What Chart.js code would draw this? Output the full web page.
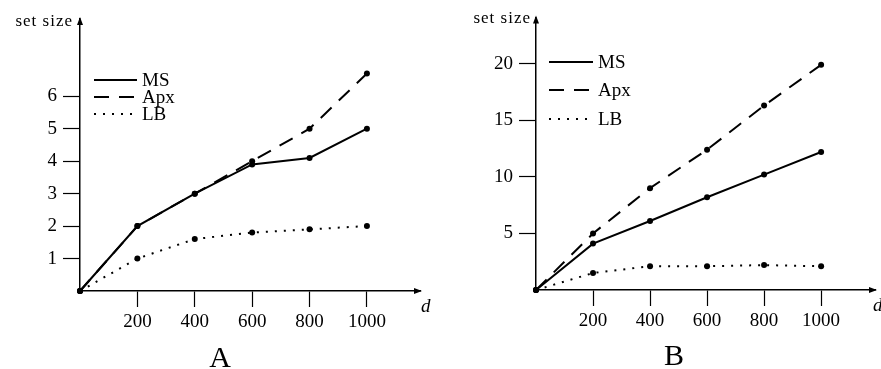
<!DOCTYPE html>
<html>
<head>
<meta charset="utf-8">
<script src="https://cdn.jsdelivr.net/npm/chart.js@4"></script>
<style>
  html, body { margin: 0; padding: 0; background: #fff; }
  #wrap { position: relative; width: 881px; height: 369px; }
  #chartA { position: absolute; left: 0; top: 0; }
  #chartB { position: absolute; left: 440px; top: 0; }
</style>
</head>
<body>
<div id="wrap">
  <canvas id="chartA" width="440" height="369"></canvas>
  <canvas id="chartB" width="441" height="369"></canvas>
</div>
<script>
// d values (x) shared by both panels
var dValues = [0, 200, 400, 600, 800, 1000];
var xTicks = [200, 400, 600, 800, 1000];
var seriesNames = ["MS", "Apx", "LB"];

// panel A
var msA = [0, 2, 3, 3.9, 4.1, 5.0];
var apxA = [0, 2, 3, 4.0, 5.0, 6.7];
var lbA = [0, 1.0, 1.6, 1.8, 1.9, 2.0];
var yTicksA = [1, 2, 3, 4, 5, 6];

// panel B
var msB = [0, 4.1, 6.1, 8.2, 10.2, 12.2];
var apxB = [0, 5.0, 9.0, 12.4, 16.3, 19.9];
var lbB = [0, 1.5, 2.1, 2.1, 2.2, 2.1];
var yTicksB = [5, 10, 15, 20];

Chart.defaults.font.family = '"Liberation Serif", "Times New Roman", serif';
Chart.defaults.color = '#000';

function toPoints(ys) {
    return dValues.map(function(d, i) {
        return { x: d, y: ys[i] };
    });
}

// arrows, axis names, panel letter and the little legend
var decor = {
    id: 'decor',
    afterDraw: function(chart, args, o) {
        var ctx = chart.ctx, a = chart.chartArea;
        ctx.save();
        ctx.fillStyle = '#000';
        ctx.strokeStyle = '#000';

        ctx.beginPath();
        ctx.moveTo(a.left, a.top - 2);
        ctx.lineTo(a.left - 3, a.top + 6);
        ctx.lineTo(a.left + 3, a.top + 6);
        ctx.closePath();
        ctx.fill();
        ctx.beginPath();
        ctx.moveTo(a.right + 2, a.bottom);
        ctx.lineTo(a.right - 6, a.bottom - 3);
        ctx.lineTo(a.right - 6, a.bottom + 3);
        ctx.closePath();
        ctx.fill();

        ctx.textBaseline = 'alphabetic';
        ctx.font = '17px "Liberation Serif"';
        ctx.letterSpacing = '1px';
        ctx.textAlign = 'right';
        ctx.fillText('set size', o.yLabel[0], o.yLabel[1]);
        ctx.letterSpacing = '0px';

        ctx.textAlign = 'left';
        ctx.font = 'italic 19px "Liberation Serif"';
        ctx.fillText('d', o.xLabel[0], o.xLabel[1]);

        ctx.textAlign = 'center';
        ctx.font = '30px "Liberation Serif"';
        ctx.fillText(o.letter, o.letterPos[0], o.letterPos[1]);

        // legend
        ctx.font = '19px "Liberation Serif"';
        ctx.textAlign = 'left';
        ctx.textBaseline = 'middle';
        chart.data.datasets.forEach(function(ds, i) {
            var y = o.legendY[i];
            ctx.save();
            ctx.lineWidth = ds.borderWidth;
            ctx.setLineDash(ds.borderDash || []);
            ctx.beginPath();
            ctx.moveTo(o.legendX[0], y);
            ctx.lineTo(o.legendX[1], y);
            ctx.stroke();
            ctx.restore();
            ctx.fillText(ds.label, o.legendX[2], y + 1);
        });
        ctx.restore();
    }
};

function makeChart(id, ms, apx, lb, yTicks, xMax, yMax, yWidth, padding, deco) {
    var lineStyles = [[], [15, 10], [2, 7]];
    var values = [ms, apx, lb];
    var datasets = values.map(function(v, i) {
        return {
            label: seriesNames[i],
            data: toPoints(v),
            borderColor: '#000',
            borderWidth: 2,
            borderDash: lineStyles[i],
            pointRadius: 3,
            pointBorderWidth: 0,
            pointBackgroundColor: '#000',
            tension: 0,
            clip: false
        };
    });

    return new Chart(document.getElementById(id), {
        type: 'line',
        data: { datasets: datasets },
        options: {
            responsive: false,
            animation: false,
            devicePixelRatio: 1,
            layout: { padding: padding },
            plugins: {
                legend: { display: false },
                tooltip: { enabled: false },
                decor: deco
            },
            scales: {
                x: {
                    type: 'linear',
                    min: 0,
                    max: xMax,
                    afterBuildTicks: function(scale) {
                        scale.ticks = xTicks.map(function(v) { return { value: v }; });
                    },
                    afterFit: function(scale) { scale.height = 40; },
                    ticks: {
                        font: { size: 19 },
                        padding: 4,
                        maxRotation: 0,
                        autoSkip: false,
                        callback: function(v) { return String(v); }
                    },
                    grid: {
                        drawOnChartArea: false,
                        drawTicks: true,
                        tickLength: 16,
                        tickWidth: 1.2,
                        color: '#000'
                    },
                    border: { display: true, color: '#000', width: 1.5 }
                },
                y: {
                    type: 'linear',
                    min: 0,
                    max: yMax,
                    afterBuildTicks: function(scale) {
                        scale.ticks = yTicks.map(function(v) { return { value: v }; });
                    },
                    afterFit: function(scale) { scale.width = yWidth; },
                    ticks: {
                        font: { size: 19 },
                        padding: 6,
                        callback: function(v) { return String(v); }
                    },
                    grid: {
                        drawOnChartArea: false,
                        drawTicks: true,
                        tickLength: 17,
                        tickWidth: 1.2,
                        color: '#000'
                    },
                    border: { display: true, color: '#000', width: 1.5 }
                }
            }
        },
        plugins: [decor]
    });
}

makeChart('chartA', msA, apxA, lbA, yTicksA, 1185, 8.38, 80,
    { left: 0, top: 19, right: 20, bottom: 38 },
    {
        yLabel: [73, 26],
        xLabel: [421, 312],
        letter: 'A',
        letterPos: [220, 367],
        legendX: [94, 137, 142],
        legendY: [80, 97, 114]
    });

makeChart('chartB', msB, apxB, lbB, yTicksB, 1189, 24.09, 96,
    { left: 0, top: 17, right: 6, bottom: 39 },
    {
        yLabel: [91, 23],
        xLabel: [433, 311],
        letter: 'B',
        letterPos: [234, 365],
        legendX: [109, 153, 158],
        legendY: [62, 90, 119]
    });
</script>
</body>
</html>
